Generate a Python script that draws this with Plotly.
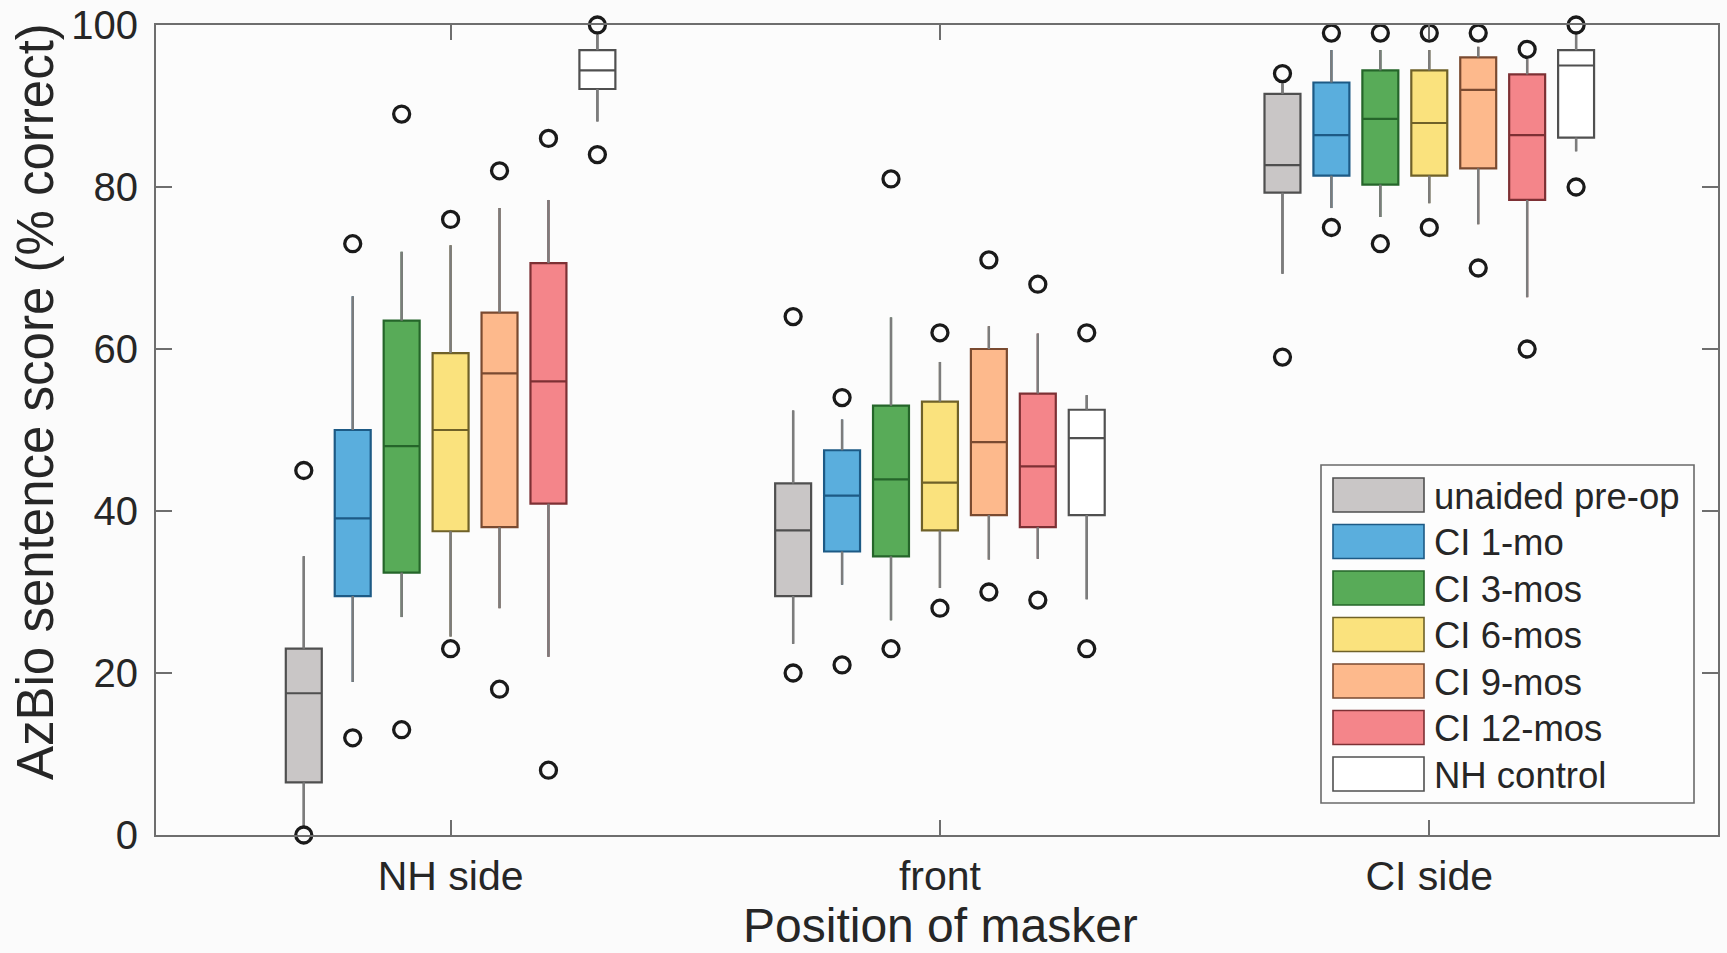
import plotly.graph_objects as go

# Masker positions (x categories) and listener conditions (box series)
POSITIONS = ["NH side", "front", "CI side"]
SERIES = ["unaided pre-op", "CI 1-mo", "CI 3-mos", "CI 6-mos",
          "CI 9-mos", "CI 12-mos", "NH control"]

# Box statistics, one row per series, one column per masker position
LOWER_WHISKER = [
    [1.0, 23.6, 69.3],
    [18.9, 30.9, 77.4],
    [26.9, 26.5, 76.3],
    [24.5, 30.5, 78.0],
    [28.0, 34.0, 75.4],
    [22.0, 34.1, 66.4],
    [88.1, 29.1, 84.4],
]
Q1 = [
    [6.5, 29.5, 79.3],
    [29.5, 35.0, 81.4],
    [32.4, 34.4, 80.3],
    [37.5, 37.6, 81.4],
    [38.0, 39.5, 82.3],
    [40.9, 38.0, 78.4],
    [92.1, 39.5, 86.1],
]
MEDIAN = [
    [17.5, 37.6, 82.7],
    [39.1, 41.9, 86.4],
    [48.0, 43.9, 88.4],
    [50.0, 43.5, 87.9],
    [57.0, 48.5, 92.0],
    [56.0, 45.5, 86.4],
    [94.4, 49.0, 95.0],
]
Q3 = [
    [23.0, 43.4, 91.5],
    [50.0, 47.5, 92.9],
    [63.5, 53.0, 94.4],
    [59.5, 53.5, 94.4],
    [64.5, 60.0, 96.0],
    [70.6, 54.5, 93.9],
    [96.9, 52.5, 96.9],
]
UPPER_WHISKER = [
    [34.4, 52.4, 92.8],
    [66.5, 51.3, 96.9],
    [72.0, 63.9, 96.9],
    [72.8, 58.4, 96.9],
    [77.4, 62.8, 97.3],
    [78.4, 61.9, 95.8],
    [98.8, 54.3, 98.9],
]
OUTLIERS = [
    [[45, 0], [64, 20], [94, 59]],
    [[73, 12], [54, 21], [99, 75]],
    [[89, 13], [81, 23], [99, 73]],
    [[76, 23], [62, 28], [99, 75]],
    [[82, 18], [71, 30], [99, 70]],
    [[86, 8], [68, 29], [97, 60]],
    [[100, 84], [62, 23], [100, 80]],
]

FILL = ["#c9c6c6", "#5aaedd", "#58ab58", "#fae27d", "#fdb98c", "#f4858a", "#ffffff"]
EDGE = ["#4f4f4f", "#1d5a85", "#25652a", "#6f6128", "#7a4a30", "#7d3034", "#505050"]

FONT = "Liberation Sans, Arial, Helvetica, sans-serif"
TEXT = "#262626"
AXIS = "#6e6e6e"
WHISKER = "#7c7c7c"

# plot-area geometry in pixels (used for the hand-built legend and axis titles)
W, H = 1727, 953
L, R, T, B = 156, 9, 25, 118
PW, PH = W - L - R, H - T - B


def px_x(x):
    return (x - L) / PW


def px_y(y):
    return (H - B - y) / PH


n = len(SERIES)
spacing = 0.1
box_w = 0.0735
cat_x = [i + 1 for i in range(len(POSITIONS))]

fig = go.Figure()

whisk_x, whisk_y = [], []
out_x, out_y = [], []
for k in range(n):
    offset = (k - (n - 1) / 2) * spacing
    xs = [c + offset for c in cat_x]
    fig.add_trace(go.Box(
        x=xs, q1=Q1[k], median=MEDIAN[k], q3=Q3[k],
        lowerfence=LOWER_WHISKER[k], upperfence=UPPER_WHISKER[k],
        width=box_w, whiskerwidth=0, boxpoints=False,
        fillcolor=FILL[k], line=dict(color=EDGE[k], width=2.2),
        name=SERIES[k], showlegend=False,
    ))
    for j, x in enumerate(xs):
        whisk_x += [x, x, None, x, x, None]
        whisk_y += [Q3[k][j], UPPER_WHISKER[k][j], None,
                    Q1[k][j], LOWER_WHISKER[k][j], None]
        for v in OUTLIERS[k][j]:
            out_x.append(x)
            out_y.append(v)

# grey whiskers drawn over the box traces
fig.add_trace(go.Scatter(
    x=whisk_x, y=whisk_y, mode="lines",
    line=dict(color=WHISKER, width=2.4), showlegend=False, hoverinfo="skip",
))
# outliers
fig.add_trace(go.Scatter(
    x=out_x, y=out_y, mode="markers", cliponaxis=False,
    marker=dict(symbol="circle-open", size=16, color="#1a1a1a",
                line=dict(width=3.3, color="#1a1a1a")),
    showlegend=False,
))

# legend panel
shapes = []
annotations = []
lg_x0, lg_x1, lg_y0, lg_y1 = 1321, 1694, 465, 803
shapes.append(dict(type="rect", xref="paper", yref="paper",
                   x0=px_x(lg_x0), x1=px_x(lg_x1), y0=px_y(lg_y1), y1=px_y(lg_y0),
                   fillcolor="#fdfdfd", line=dict(color="#6a6a6a", width=1.6),
                   layer="above"))
for k in range(n):
    cy = 495 + k * 46.5
    shapes.append(dict(type="rect", xref="paper", yref="paper",
                       x0=px_x(1333), x1=px_x(1424),
                       y0=px_y(cy + 17), y1=px_y(cy - 17),
                       fillcolor=FILL[k], line=dict(color=EDGE[k], width=1.6),
                       layer="above"))
    annotations.append(dict(xref="paper", yref="paper",
                            x=px_x(1432), y=px_y(cy + 1), text=SERIES[k],
                            showarrow=False, xanchor="left", yanchor="middle",
                            font=dict(family=FONT, size=36.5, color=TEXT)))

# axis titles
annotations.append(dict(xref="paper", yref="paper", x=px_x(35), y=px_y(402),
                        text="AzBio sentence score (% correct)", textangle=-90,
                        showarrow=False, xanchor="center", yanchor="middle",
                        font=dict(family=FONT, size=51, color=TEXT)))
annotations.append(dict(xref="paper", yref="paper", x=px_x(940), y=px_y(953),
                        text="Position of masker", borderpad=0,
                        showarrow=False, xanchor="center", yanchor="bottom",
                        font=dict(family=FONT, size=48, color=TEXT)))

fig.update_layout(
    width=W, height=H,
    margin=dict(l=L, r=R, t=T, b=B, pad=0, autoexpand=False),
    paper_bgcolor="#fbfbfb", plot_bgcolor="#fcfcfc",
    boxmode="overlay",
    font=dict(family=FONT, size=40, color=TEXT),
    shapes=shapes, annotations=annotations,
    xaxis=dict(
        range=[0.398, 3.59], tickmode="array", tickvals=cat_x, ticktext=POSITIONS,
        showline=True, linecolor=AXIS, linewidth=2, mirror="ticks",
        ticks="inside", ticklen=15, tickwidth=1.5, tickcolor=AXIS,
        showgrid=False, zeroline=False, automargin=False,
        tickfont=dict(size=41, color=TEXT), ticklabelstandoff=4,
    ),
    yaxis=dict(
        range=[0, 100], tickmode="array", tickvals=[0, 20, 40, 60, 80, 100],
        showline=True, linecolor=AXIS, linewidth=2, mirror="ticks",
        ticks="inside", ticklen=16, tickwidth=1.5, tickcolor=AXIS,
        showgrid=False, zeroline=False, automargin=False,
        tickfont=dict(size=40, color=TEXT), ticklabelstandoff=8,
    ),
)

fig.write_html("out.html")
